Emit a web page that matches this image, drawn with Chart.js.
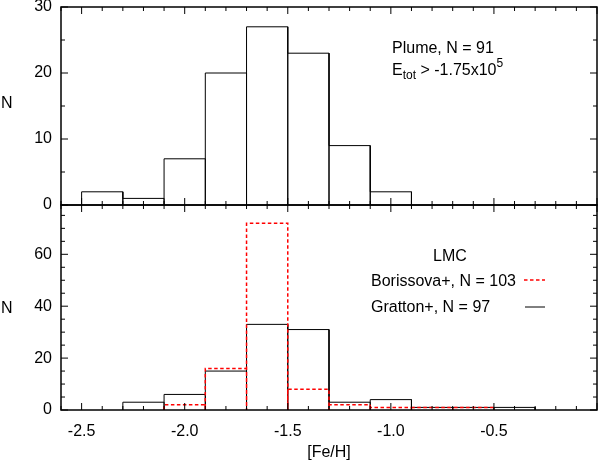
<!DOCTYPE html>
<html>
<head>
<meta charset="utf-8">
<script src="https://cdn.jsdelivr.net/npm/chart.js@4.4.0/dist/chart.umd.min.js"></script>
<style>
  html, body { margin: 0; padding: 0; background: #fff; }
  #wrap { position: relative; width: 598px; height: 460px; }
  canvas { position: absolute; left: 0; top: 0; }
</style>
</head>
<body>
<div id="wrap">
  <canvas id="plume" width="598" height="460"></canvas>
  <canvas id="lmc" width="598" height="460"></canvas>
</div>
<script>
// histogram bins: left edge of each bin, all bins 0.2 dex wide
const binWidth = 0.2;
const plumeEdges = [-2.5, -2.3, -2.1, -1.9, -1.7, -1.5, -1.3, -1.1];
const plumeCounts = [2, 1, 7, 20, 27, 23, 9, 2];
const borissovaEdges = [-2.1, -1.9, -1.7, -1.5, -1.3, -1.1, -0.9, -0.7];
const borissovaCounts = [2, 16, 72, 8, 2, 1, 1, 1];
const grattonEdges = [-2.3, -2.1, -1.9, -1.7, -1.5, -1.3, -1.1, -0.9, -0.7, -0.5];
const grattonCounts = [3, 6, 15, 33, 31, 3, 4, 1, 1, 1];

const xTicks = [-2.5, -2.0, -1.5, -1.0, -0.5];
const plumeYTicks = [0, 10, 20, 30];
const lmcYTicks = [0, 20, 40, 60];

const FONT = '"Liberation Sans", Arial, Helvetica, sans-serif';
Chart.defaults.font.family = FONT;
Chart.defaults.color = '#000';

// outline of gnuplot-style boxes
function boxOutline(edges, counts) {
  const pts = [];
  edges.forEach((lo, i) => {
    const hi = lo + binWidth;
    pts.push({x: lo, y: 0}, {x: lo, y: counts[i]}, {x: hi, y: counts[i]}, {x: hi, y: 0});
  });
  return pts;
}

// frame with inward ticks on all four sides
const framePlugin = {
  id: 'frame',
  afterDatasetsDraw(chart, args, opts) {
    const {ctx, chartArea: a} = chart;
    const x = chart.scales.x, y = chart.scales.y;
    ctx.save();
    ctx.strokeStyle = '#000';
    ctx.lineWidth = 1;
    ctx.beginPath();
    for (let k = -26; k <= 0; k++) {
      const px = x.getPixelForValue(k / 10);
      const len = (k % 5 === 0) ? 7 : 4;
      ctx.moveTo(px, a.bottom); ctx.lineTo(px, a.bottom - len);
      ctx.moveTo(px, a.top); ctx.lineTo(px, a.top + len);
    }
    for (let v = 0; v <= y.max; v += opts.minorY) {
      const py = y.getPixelForValue(v);
      const len = (v % opts.majorY === 0) ? 7 : 4;
      ctx.moveTo(a.left, py); ctx.lineTo(a.left + len, py);
      ctx.moveTo(a.right, py); ctx.lineTo(a.right - len, py);
    }
    ctx.stroke();
    ctx.lineWidth = 1.5;
    ctx.strokeRect(a.left, a.top, a.right - a.left, a.bottom - a.top);
    ctx.restore();
  }
};

// free text and legend samples
const notesPlugin = {
  id: 'notes',
  afterDraw(chart, args, opts) {
    const ctx = chart.ctx;
    ctx.save();
    ctx.fillStyle = '#000';
    ctx.textBaseline = 'alphabetic';
    (opts.texts || []).forEach(t => {
      let x = t.x;
      if (t.align === 'center') {
        let w = 0;
        t.runs.forEach(r => { ctx.font = r.size + 'px ' + FONT; w += ctx.measureText(r.text).width; });
        x -= w / 2;
      }
      t.runs.forEach(r => {
        ctx.font = r.size + 'px ' + FONT;
        ctx.textAlign = 'left';
        ctx.fillText(r.text, x, t.y + (r.dy || 0));
        x += ctx.measureText(r.text).width;
      });
    });
    (opts.samples || []).forEach(s => {
      ctx.beginPath();
      ctx.strokeStyle = s.color;
      ctx.lineWidth = s.width;
      ctx.setLineDash(s.dash || []);
      ctx.moveTo(s.x0, s.y); ctx.lineTo(s.x1, s.y);
      ctx.stroke();
    });
    ctx.restore();
  }
};

function panel(id, datasets, yMax, yTicks, majorY, showX, pad, notes) {
  return new Chart(document.getElementById(id), {
    type: 'scatter',
    data: { datasets },
    options: {
      responsive: false,
      animation: false,
      events: [],
      layout: { padding: pad },
      scales: {
        x: {
          type: 'linear', min: -2.6, max: 0,
          grid: { display: false, drawTicks: false },
          border: { display: false },
          ticks: { display: showX, padding: 12, font: { size: 16 }, maxRotation: 0, autoSkip: false,
                   callback: v => v.toFixed(1) },
          afterBuildTicks: s => { s.ticks = xTicks.map(v => ({ value: v })); },
          afterFit: s => { s.height = showX ? 30 : 0; s.paddingLeft = 0; s.paddingRight = 0; }
        },
        y: {
          type: 'linear', min: 0, max: yMax,
          grid: { display: false, drawTicks: false },
          border: { display: false },
          ticks: { padding: 9, font: { size: 16 }, callback: v => String(v) },
          afterBuildTicks: s => { s.ticks = yTicks.map(v => ({ value: v })); },
          afterFit: s => { s.width = 61; s.paddingTop = 0; s.paddingBottom = 0; }
        }
      },
      plugins: {
        legend: { display: false },
        tooltip: { enabled: false },
        frame: { minorY: 5, majorY },
        notes
      }
    },
    plugins: [framePlugin, notesPlugin]
  });
}

panel('plume', [{
    data: boxOutline(plumeEdges, plumeCounts),
    showLine: true, pointRadius: 0, borderColor: '#000', borderWidth: 1, tension: 0
  }], 30, plumeYTicks, 10, false,
  { top: 7, bottom: 255, left: 0, right: 1 },
  {
    texts: [
      { x: 1, y: 108, runs: [{ text: 'N', size: 16 }] },
      { x: 392, y: 53, runs: [{ text: 'Plume, N = 91', size: 16 }] },
      { x: 392, y: 75, runs: [
        { text: 'E', size: 16 }, { text: 'tot', size: 12, dy: 4 },
        { text: ' > -1.75x10', size: 16 }, { text: '5', size: 12, dy: -8 }
      ] }
    ]
  });

panel('lmc', [{
    data: boxOutline(borissovaEdges, borissovaCounts),
    showLine: true, pointRadius: 0, borderColor: '#ff0000', borderWidth: 1.5,
    borderDash: [3.5, 2.5], tension: 0
  }, {
    data: boxOutline(grattonEdges, grattonCounts),
    showLine: true, pointRadius: 0, borderColor: '#000', borderWidth: 1, tension: 0
  }], 79, lmcYTicks, 20, true,
  { top: 205, bottom: 20, left: 0, right: 1 },
  {
    texts: [
      { x: 1, y: 313, runs: [{ text: 'N', size: 16 }] },
      { x: 450, y: 261, align: 'center', runs: [{ text: 'LMC', size: 16 }] },
      { x: 371, y: 286, runs: [{ text: 'Borissova+, N = 103', size: 16 }] },
      { x: 371, y: 312, runs: [{ text: 'Gratton+, N = 97', size: 16 }] },
      { x: 329, y: 457, align: 'center', runs: [{ text: '[Fe/H]', size: 16 }] }
    ],
    samples: [
      { x0: 524, x1: 545, y: 280, color: '#ff0000', width: 1.5, dash: [3.5, 2.5] },
      { x0: 525, x1: 545, y: 307, color: '#000', width: 1 }
    ]
  });
</script>
</body>
</html>
